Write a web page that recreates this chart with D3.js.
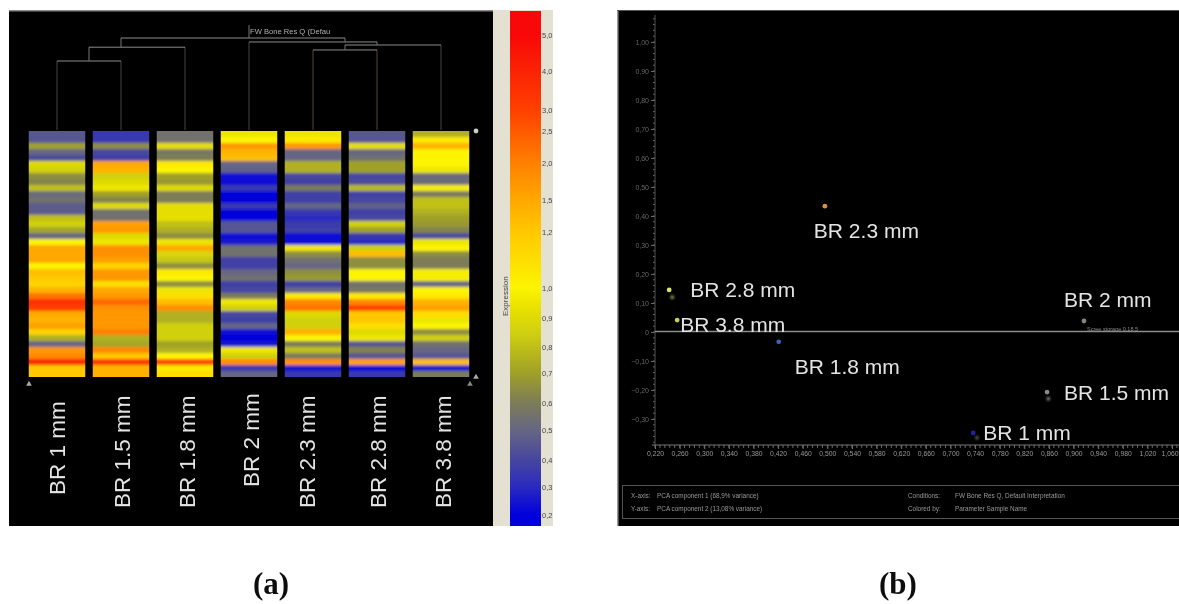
<!DOCTYPE html>
<html><head><meta charset="utf-8">
<script src="https://cdn.jsdelivr.net/npm/d3@7"></script>
<style>html,body{margin:0;padding:0;background:#fff;overflow:hidden}svg{display:block}</style>
</head><body><svg id="c" width="1179" height="604"></svg>
<script>
const samples = ["BR 1 mm","BR 1.5 mm","BR 1.8 mm","BR 2 mm","BR 2.3 mm","BR 2.8 mm","BR 3.8 mm"];
const br1  = [.45,.45,.7,.5,.42,.9,.85,.65,.62,.8,.52,.55,.47,.47,.8,.85,.72,.5,1.0,1.5,1.5,1.5,1.0,1.3,1.2,1.15,1.4,2.2,3.5,3,1.5,1.4,1.6,1.15,.75,.5,1.7,1.9,4,1.2,1.2];
const br15 = [.35,.35,.65,.4,.38,1.5,1.4,.85,.9,.95,.7,.62,.9,.55,.55,1.6,1.7,.9,.95,1.8,1.8,1.6,1.15,1.7,1.7,1.1,1.5,1.7,2.4,1.8,1.7,1.7,1.7,2,.75,.72,1.9,1.2,3.5,1.4,1.4];
const br18 = [.55,.55,.92,.58,.6,1.05,1.0,.7,.68,.9,.6,.6,.92,.92,.92,.8,.75,.65,.95,1.5,.88,.82,.65,1.05,1.0,.65,.95,1.1,1.3,1.8,.75,.75,.85,.85,.85,.7,.75,1.0,3,1.05,1.1];
const br2  = [.95,1.0,1.7,1.4,1.3,.5,.48,.22,.22,.35,.2,.2,.35,.2,.2,.45,.45,.22,.25,.55,.55,.38,.38,.5,.55,.38,.4,.6,.95,.85,.4,.38,.5,.22,.2,.25,.95,.85,1.8,.35,.5];
const br23 = [.95,1.05,1.7,.5,.5,.75,.75,.4,.38,.6,.38,.38,.5,.35,.3,.36,.38,.22,.22,.95,.65,.55,.5,.65,.68,.38,.5,1.05,1.9,2.2,.9,.85,.85,1.4,1.0,.6,.8,.6,1.8,.25,.35];
const br28 = [.45,.45,.92,.5,.55,.7,.7,.4,.42,.78,.38,.4,.48,.38,.4,.85,.7,.35,.3,.85,1.3,.65,.65,1.0,1.0,.55,.58,1.05,1.9,3,1.2,1.2,1.1,.9,.95,.45,.62,.45,1.6,.22,.35];
const br38 = [.75,1.05,1.4,1.0,1.0,1.0,.95,.52,.52,.98,.58,.8,.8,.75,.7,.68,.62,.42,.95,1.0,.65,.6,.6,.98,.98,.5,1.0,1.05,1.4,1.6,1.1,.95,1.0,.65,.85,.55,.5,.45,1.3,.25,.6];
const columns = [br1,br15,br18,br2,br23,br28,br38];

const barTicks  = [5,4,3,2.5,2,1.5,1.2,1,.9,.8,.7,.6,.5,.4,.3,.2];
const barPixels = [35,71,110,131,163,200,232,288,318,347,373,403,430,460,487,515];
const colorVals = [.2,.3,.4,.5,.6,.7,.85,.93,1,1.2,1.5,2,3,5];
const colorHex  = ["#0000dc","#2a2ac0","#4646a0","#666684","#7c7c58","#a0a028","#d0d010","#e8e000","#fcf400","#ffc800","#ffa800","#ff8000","#ff4000","#f80808"];

// dendrogram merges: [left child, right child, merge height]; children index leaves (0-6) or earlier merges (7+)
const merges = [[0,1,.75],[7,2,.90],[4,5,.87],[9,6,.924],[3,10,.957],[8,11,1]];
const rootStem = 1.14;
const treeTitle = "FW Bone Res Q (Defau";

const pcaNames = ["BR 1 mm","BR 1.5 mm","BR 1.8 mm","BR 2 mm","BR 2.3 mm","BR 2.8 mm","BR 3.8 mm"];
const pcaX = [.737,.857,.421,.917,.496,.243,.256];
const pcaY = [-.348,-.207,-.034,.038,.434,.145,.041];
const pcaColor = ["#24249a","#8a8a84","#3a62b4","#80887a","#e09040","#dce466","#cccc55"];
const ghostX = [.248,.859,.743];
const ghostY = [.12,-.23,-.365];
const ghostColor = ["#8a8a40","#777","#555"];
const xTicks = [.22,.26,.30,.34,.38,.42,.46,.50,.54,.58,.62,.66,.70,.74,.78,.82,.86,.90,.94,.98,1.02,1.06];
const yTicks = [1,.9,.8,.7,.6,.5,.4,.3,.2,.1,0,-.1,-.2,-.3];
const infoLeft = [["X-axis:","PCA component 1 (68,9% variance)"],["Y-axis:","PCA component 2 (13,08% variance)"]];
const infoRight = [["Conditions:","FW Bone Res Q, Default Interpretation"],["Colored by:","Parameter Sample Name"]];
const smallNote = "Scree storage 0.18.5";

// layout of the scatter labels, px offset from the point
const labelOffset = {"BR 1 mm":[10,7],"BR 1.5 mm":[17,8],"BR 1.8 mm":[16,32],"BR 2 mm":[-20,-14],"BR 2.3 mm":[-11,32],"BR 2.8 mm":[21,7],"BR 3.8 mm":[3,12]};

const svg = d3.select("#c");
const defs = svg.append("defs");
const mkBlur=(id,s)=>defs.append("filter").attr("id",id).attr("x","-20%").attr("y","-20%").attr("width","140%").attr("height","140%")
  .append("feGaussianBlur").attr("stdDeviation",s);
mkBlur("bH","0.5 1.7"); mkBlur("bS",0.6); mkBlur("bD",1.1); mkBlur("bL",0.35);

svg.append("rect").attr("width",1179).attr("height",604).attr("fill","#fff");

/* ---------- panel a ---------- */
svg.append("rect").attr("x",9).attr("y",10).attr("width",484).attr("height",516).attr("fill","#000");
svg.append("rect").attr("x",9).attr("y",10).attr("width",484).attr("height",1.5).attr("fill","#8a8a8a");
svg.append("rect").attr("x",493).attr("y",10).attr("width",60).attr("height",516).attr("fill","#e4e1d2");

const x0 = d3.scalePoint().domain(d3.range(7)).range([57,441]);
const bandW = 56.5;
const rows = d3.range(columns[0].length);
const yRow = d3.scaleBand().domain(rows).range([131,377]);
const color = d3.scaleLinear().domain(colorVals).range(colorHex).clamp(true);

const heat = svg.append("g");
columns.forEach((col,i)=>{
  const g = heat.append("g").attr("clip-path",`url(#cc${i})`);
  defs.append("clipPath").attr("id",`cc${i}`).append("rect")
    .attr("x",x0(i)-bandW/2).attr("y",131).attr("width",bandW).attr("height",246);
  const inner = g.append("g").attr("filter","url(#bH)");
  inner.selectAll("rect").data(col).join("rect")
    .attr("x",x0(i)-bandW/2-4).attr("width",bandW+8)
    .attr("y",(d,r)=>yRow(r)-(r===0?6:0)).attr("height",(d,r)=>yRow.bandwidth()+(r===0?6.5:0.5)+(r===col.length-1?6:0))
    .attr("fill",d=>color(d));
});

// dendrogram: a node sits at the mean position of its leaves
const yTree = d3.scaleLinear().domain([0,1]).range([130,38]);
const nodes = d3.range(7).map(i=>({x:x0(i),h:0,leaves:[i]}));
const treeG = svg.append("g").attr("fill","none").attr("filter","url(#bL)");
const seg=(x1,y1,x2,y2,c)=>{const p=d3.path();p.moveTo(x1,y1);p.lineTo(x2,y2);
  treeG.append("path").attr("d",p.toString()).attr("stroke",c).attr("stroke-width",1);};
merges.forEach(([a,b,h])=>{
  const A=nodes[a],B=nodes[b];
  seg(A.x,yTree(A.h),A.x,yTree(h),a===4?"#5a4030":(a<7?"#484848":"#777"));
  seg(B.x,yTree(B.h),B.x,yTree(h),(b===5)?"#5a4030":(b<7?"#484848":"#777"));
  seg(A.x,yTree(h),B.x,yTree(h),"#8c8c8c");
  const leaves=A.leaves.concat(B.leaves);
  nodes.push({x:d3.mean(leaves,l=>x0(l)),h,leaves});
});
const root=nodes[nodes.length-1];
seg(root.x,yTree(1),root.x,yTree(rootStem),"#777");
svg.append("text").attr("x",250).attr("y",34).attr("font-family","Liberation Sans").attr("font-size",7.6)
  .attr("fill","#b0b0b0").attr("filter","url(#bL)").text(treeTitle);

// little handles
const sym=d3.symbol().type(d3.symbolTriangle).size(14);
svg.append("path").attr("d",sym()).attr("transform","translate(29,384)").attr("fill","#aaa");
svg.append("circle").attr("cx",476).attr("cy",131).attr("r",2.4).attr("fill","#ccc");
svg.append("path").attr("d",sym()).attr("transform","translate(476,377)").attr("fill","#aaa");
svg.append("path").attr("d",sym()).attr("transform","translate(470,384)").attr("fill","#888");

// column labels
const labelX = [65,130,195,259,315,386,451];
samples.forEach((s,i)=>{
  const base = i===0?495:(i===3?487:508);
  svg.append("text").attr("transform",`translate(${labelX[i]},${base}) rotate(-90)`)
    .attr("font-family","Liberation Sans").attr("font-size",22.5).attr("fill","#e4e4e4").attr("filter","url(#bL)").text(s);
});

// colour bar
const yBar = d3.scaleLinear().domain(barTicks).range(barPixels);
const grad = defs.append("linearGradient").attr("id","bar").attr("gradientUnits","userSpaceOnUse")
  .attr("x1",0).attr("x2",0).attr("y1",526).attr("y2",11);
colorVals.forEach((v,i)=>{
  const py=yBar(v);
  grad.append("stop").attr("offset",(526-py)/515).attr("stop-color",colorHex[i]);
});
svg.append("rect").attr("x",510).attr("y",11).attr("width",31).attr("height",515).attr("fill","url(#bar)");
const axBar = d3.axisRight(yBar).tickValues(barTicks).tickSize(0).tickPadding(0).tickFormat(d=>d3.format(".1f")(d).replace(".",","));
const gb = svg.append("g").attr("transform","translate(542,0)").call(axBar);
gb.select(".domain").remove();
gb.selectAll("text").attr("font-family","Liberation Sans").attr("font-size",7.5).attr("fill","#444").attr("filter","url(#bL)");
svg.append("text").attr("transform","translate(508,316) rotate(-90)").attr("font-family","Liberation Sans")
  .attr("font-size",8).attr("fill","#444").attr("filter","url(#bL)").text("Expression");

/* ---------- panel b ---------- */
svg.append("rect").attr("x",617).attr("y",10).attr("width",562).attr("height",516).attr("fill","#000");
svg.append("rect").attr("x",617).attr("y",10).attr("width",1.5).attr("height",516).attr("fill","#9a9a9a");
svg.append("rect").attr("x",617).attr("y",10).attr("width",562).attr("height",1).attr("fill","#555");

const xS = d3.scaleLinear().domain([.22,1.06]).range([655,1172]);
const yS = d3.scaleLinear().domain([0,1]).range([332,42]);
const cf = (f)=>d=>f(d).replace(".",",");
const axesG = svg.append("g").attr("filter","url(#bS)");
const gy = axesG.append("g").attr("transform","translate(655,0)")
  .call(d3.axisLeft(yS).tickValues(yTicks).tickSize(4).tickPadding(2).tickFormat(d=>d===0?"0":cf(d3.format(".2f"))(d)));
gy.select(".domain").remove();
gy.selectAll("line").attr("stroke","#666");
gy.selectAll("text").attr("font-family","Liberation Sans").attr("font-size",7).attr("fill","#666");
const minorY = d3.range(-.38,1.09,.02);
axesG.append("g").selectAll("line").data(minorY).join("line")
  .attr("x1",653).attr("x2",655).attr("y1",d=>yS(d)).attr("y2",d=>yS(d)).attr("stroke","#666");
axesG.append("line").attr("x1",655).attr("x2",655).attr("y1",15).attr("y2",445).attr("stroke","#555");

const gx = axesG.append("g").attr("transform","translate(0,445)")
  .call(d3.axisBottom(xS).tickValues(xTicks).tickSize(4).tickPadding(2).tickFormat(cf(d3.format(".3f"))));
gx.select(".domain").remove();
gx.selectAll("line").attr("stroke","#777");
gx.selectAll("text").attr("font-family","Liberation Sans").attr("font-size",6.8).attr("fill","#999");
gx.selectAll("text").filter(d=>d===1.06).attr("text-anchor","end").attr("dx",6);
const minorX = d3.range(.22,1.08,.008);
axesG.append("g").selectAll("line").data(minorX).join("line")
  .attr("x1",d=>xS(d)).attr("x2",d=>xS(d)).attr("y1",445).attr("y2",448).attr("stroke","#666");
axesG.append("line").attr("x1",652).attr("x2",1179).attr("y1",445).attr("y2",445).attr("stroke","#777");

svg.append("line").attr("x1",655).attr("x2",1179).attr("y1",331.5).attr("y2",331.5).attr("stroke","#8c8c8c").attr("stroke-width",1.3);

// points
const ptsG = svg.append("g").attr("filter","url(#bD)");
ptsG.selectAll("circle.g").data(ghostX).join("circle").attr("class","g")
  .attr("cx",d=>xS(d)).attr("cy",(d,i)=>yS(ghostY[i])).attr("r",2).attr("fill",(d,i)=>ghostColor[i]);
const ptsS = svg.append("g").attr("filter","url(#bL)");
ptsS.selectAll("circle").data(pcaX).join("circle")
  .attr("cx",d=>xS(d)).attr("cy",(d,i)=>yS(pcaY[i])).attr("r",2.4).attr("fill",(d,i)=>pcaColor[i]);

// labels
svg.append("g").selectAll("text").data(pcaNames).join("text")
  .attr("x",(d,i)=>xS(pcaX[i])+labelOffset[d][0]).attr("y",(d,i)=>yS(pcaY[i])+labelOffset[d][1])
  .attr("font-family","Liberation Sans").attr("font-size",21).attr("fill","#e4e4e4").attr("filter","url(#bL)")
  .text(d=>d);
svg.append("text").attr("x",xS(pcaX[3])+3).attr("y",yS(pcaY[3])+10).attr("font-family","Liberation Sans")
  .attr("font-size",5.5).attr("fill","#8a8a8a").attr("filter","url(#bS)").text(smallNote);

// info box
svg.append("rect").attr("x",622.5).attr("y",485.5).attr("width",570).attr("height",33).attr("fill","none").attr("stroke","#555");
const info=svg.append("g").attr("font-family","Liberation Sans").attr("font-size",6.4).attr("fill","#999").attr("filter","url(#bS)");
infoLeft.forEach((r,i)=>{
  info.append("text").attr("x",631).attr("y",498+i*13).text(r[0]);
  info.append("text").attr("x",657).attr("y",498+i*13).text(r[1]);
});
infoRight.forEach((r,i)=>{
  info.append("text").attr("x",908).attr("y",498+i*13).text(r[0]);
  info.append("text").attr("x",955).attr("y",498+i*13).text(r[1]);
});

/* ---------- captions ---------- */
const caps=[["(a)",271],["(b)",898]];
caps.forEach(c=>svg.append("text").attr("x",c[1]).attr("y",594).attr("text-anchor","middle")
  .attr("font-family","Liberation Serif").attr("font-weight","bold").attr("font-size",31).attr("fill","#111").attr("filter","url(#bL)").text(c[0]));
</script></body></html>
